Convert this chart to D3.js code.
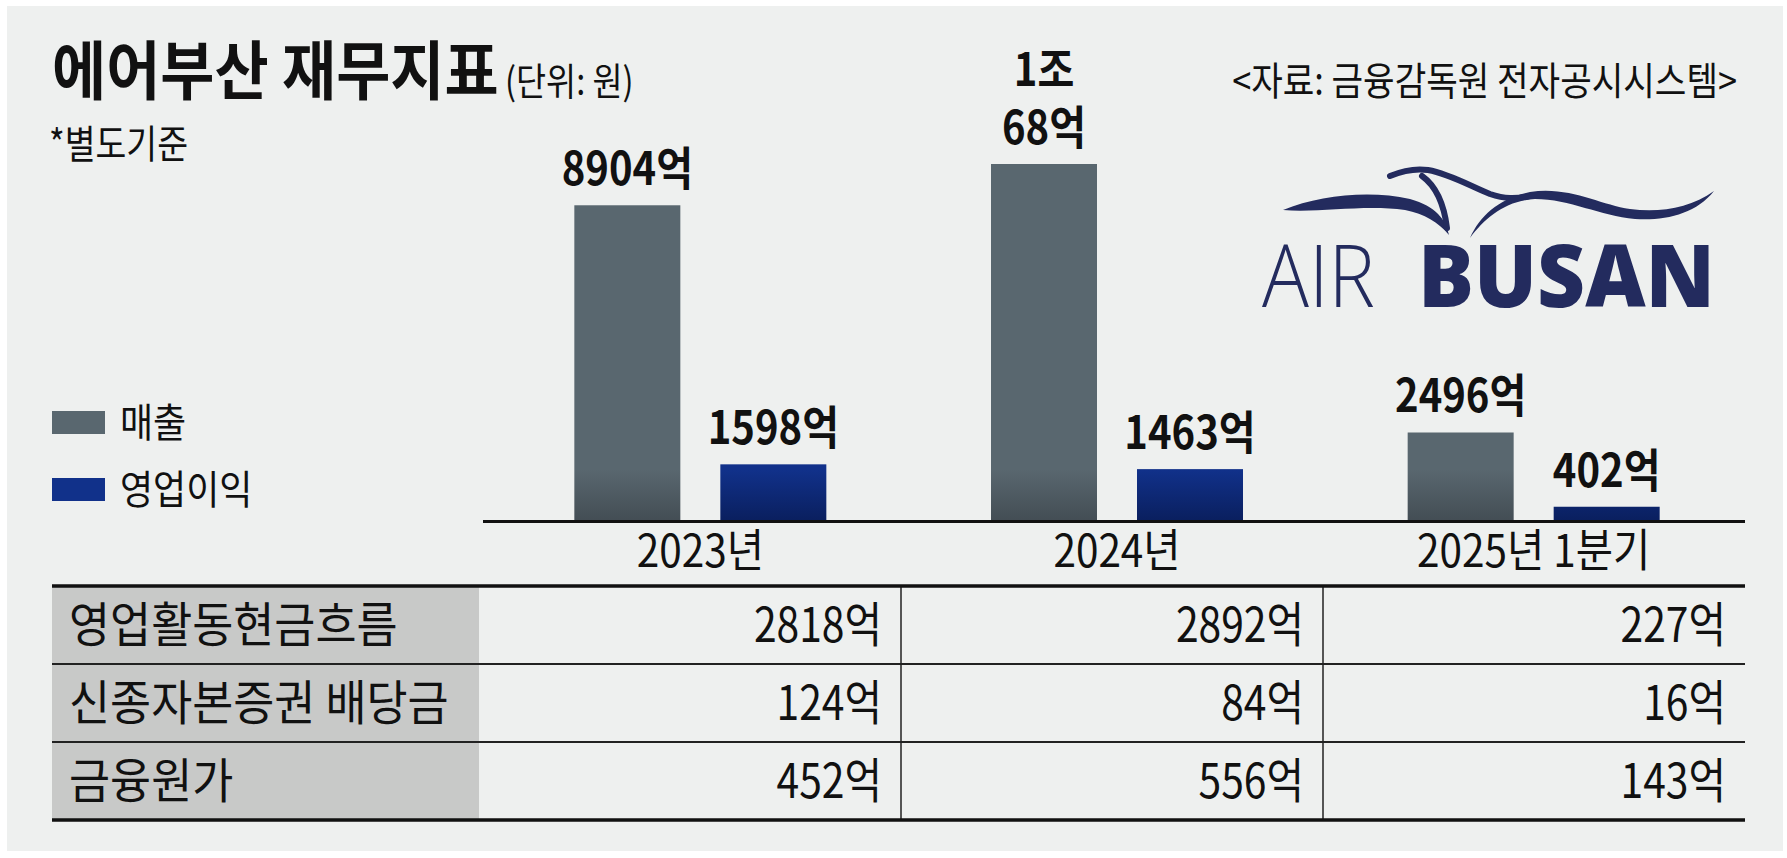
<!DOCTYPE html>
<html><head><meta charset="utf-8">
<script src="https://cdn.jsdelivr.net/npm/d3@7"></script>
<style>
html,body{margin:0;padding:0;background:#fff;}
svg{display:block;}
text{font-family:"Noto Sans CJK KR","Noto Sans",sans-serif;fill:#111;}
</style></head>
<body><svg id="c" width="1787" height="858"></svg>
<script>
// ---- data ----
const categories = ["2023년", "2024년", "2025년 1분기"];
const seriesNames = ["매출", "영업이익"];
const revenue = [8904, 10068, 2496];
const operatingProfit = [1598, 1463, 402];
const tableRowLabels = ["영업활동현금흐름", "신종자본증권 배당금", "금융원가"];
const operatingCashFlow = [2818, 2892, 227];
const hybridBondDividends = [124, 84, 16];
const financeCosts = [452, 556, 143];

const title = "에어부산 재무지표";
const unitText = "(단위: 원)";
const noteText = "*별도기준";
const sourceText = "<자료: 금융감독원 전자공시시스템>";

// ---- setup ----
const svg = d3.select("#c");
const SX = 0.86; // condensed look
const colors = {"매출": "#59676f", "영업이익": "#11318a"};
const darkColors = {"매출": "#434d54", "영업이익": "#0a1f5e"};

function txt(g, x, y, s, o) {
  o = o || {};
  const t = g.append("text")
    .attr("transform", `translate(${x},${y}) scale(${o.sx || SX},1)`)
    .attr("font-size", o.size || 40)
    .attr("font-weight", o.weight || 400)
    .attr("text-anchor", o.anchor || "start");
  if (Array.isArray(s)) {
    s.forEach((l, k) => t.append("tspan").attr("x", 0).attr("y", (k - (s.length - 1)) * (o.lh || 58)).text(l));
  } else t.text(s);
  if (o.fill) t.style("fill", o.fill);
  return t;
}

svg.append("rect").attr("x", 7).attr("y", 6).attr("width", 1776).attr("height", 845).attr("fill", "#eef0ef");

// gradients (fixed band near baseline)
const defs = svg.append("defs");
const baseY = 521;
seriesNames.forEach((s, i) => {
  const gr = defs.append("linearGradient").attr("id", "g" + i)
    .attr("gradientUnits", "userSpaceOnUse").attr("x1", 0).attr("x2", 0).attr("y1", 470).attr("y2", baseY);
  gr.append("stop").attr("offset", 0).attr("stop-color", colors[s]);
  gr.append("stop").attr("offset", 1).attr("stop-color", darkColors[s]);
});

// titles
txt(svg, 52, 94, title, {size: 64, weight: 700, sx: 0.92});
txt(svg, 505, 95, unitText, {size: 38});
txt(svg, 49, 158, noteText, {size: 39});
txt(svg, 1737, 95, sourceText, {size: 39, anchor: "end", sx: 0.88});

// scales
const x = d3.scaleBand().domain(categories).range([492, 1742]).paddingInner(0);
const xs = d3.scaleBand().domain(seriesNames).range([-126, 126]).paddingInner(0.274);
const y = d3.scaleLinear().domain([0, 10068]).range([baseY, 164]);

const data = categories.map((c, i) => ({cat: c, vals: [
  {s: "매출", v: revenue[i]}, {s: "영업이익", v: operatingProfit[i]}]}));

const fmt = v => v >= 10000 ? [Math.floor(v / 10000) + "조", (v % 10000) + "억"] : [v + "억"];

const gBars = svg.append("g");
data.forEach(d => {
  const cx = x(d.cat) + x.bandwidth() / 2;
  d.vals.forEach((e, j) => {
    gBars.append("rect")
      .attr("x", cx + xs(e.s)).attr("width", xs.bandwidth())
      .attr("y", y(e.v)).attr("height", baseY - y(e.v))
      .attr("fill", `url(#g${j})`);
    const lx = cx + xs(e.s) + xs.bandwidth() / 2;
    txt(gBars, lx, y(e.v) - 20, fmt(e.v), {size: 46, weight: 700, anchor: "middle", sx: 0.87, lh: 58});
  });
});

// axis
svg.append("line").attr("x1", 483).attr("x2", 1745).attr("y1", 521.5).attr("y2", 521.5)
  .attr("stroke", "#111").attr("stroke-width", 3);
const ax = svg.append("g").attr("transform", `translate(0,${baseY})`)
  .call(d3.axisBottom(x).tickSize(0).tickPadding(0));
ax.select(".domain").remove();
ax.selectAll(".tick text").each(function(d) {
  const p = d3.select(this.parentNode);
  d3.select(this).remove();
  txt(p, 0, 46, d, {size: 45, anchor: "middle", sx: 0.9});
});

// legend
seriesNames.forEach((s, i) => {
  const ly = 411 + i * 67;
  svg.append("rect").attr("x", 52).attr("y", ly).attr("width", 53).attr("height", 23).attr("fill", colors[s]);
  txt(svg, 120, ly + 26, s, {size: 40, sx: 0.9});
});

// table
const tTop = 586, rowH = 78, tLeft = 52, tRight = 1745, labelW = 427;
const colX = d3.scaleBand().domain(categories).range([tLeft + labelW, tRight]);
const tableData = [operatingCashFlow, hybridBondDividends, financeCosts];
svg.append("rect").attr("x", tLeft).attr("y", tTop).attr("width", labelW).attr("height", rowH * 3).attr("fill", "#c8c9c8");
tableRowLabels.forEach((lab, r) => {
  const ry = tTop + r * rowH;
  txt(svg, 69, ry + 56, lab, {size: 48, sx: 0.93});
  categories.forEach((c, ci) => {
    txt(svg, colX(c) + colX.bandwidth() - 19, ry + 56, tableData[r][ci] + "억", {size: 48, anchor: "end", sx: 0.85});
  });
});
// lines
[1, 2].forEach(r => svg.append("line").attr("x1", tLeft).attr("x2", tRight)
  .attr("y1", tTop + r * rowH).attr("y2", tTop + r * rowH).attr("stroke", "#222").attr("stroke-width", 2));
categories.slice(1).forEach(c => svg.append("line").attr("x1", colX(c)).attr("x2", colX(c))
  .attr("y1", tTop).attr("y2", tTop + rowH * 3).attr("stroke", "#222").attr("stroke-width", 1.5));
[tTop, tTop + rowH * 3].forEach(yy => svg.append("line").attr("x1", tLeft).attr("x2", tRight)
  .attr("y1", yy).attr("y2", yy).attr("stroke", "#111").attr("stroke-width", 3.5));

// logo
const navy = "#232b5e";
const logo = svg.append("g");
logo.append("path").attr("fill", navy)
  .attr("d", "M1283,210 C1320,195 1370,190 1410,199 C1436,206 1446,220 1449,235 C1438,222 1425,214 1405,210 C1365,204 1320,213 1283,210 Z");
logo.append("path").attr("fill", "none").attr("stroke", navy).attr("stroke-width", 6).attr("stroke-linecap", "round")
  .attr("d", "M1422,176 C1436,186 1444,204 1447,228");
logo.append("path").attr("fill", "none").attr("stroke", navy).attr("stroke-width", 6).attr("stroke-linecap", "round")
  .attr("d", "M1390,176 C1402,171 1415,168 1428,170 C1450,174 1470,186 1490,194 C1505,199 1515,199 1530,196");
logo.append("path").attr("fill", navy)
  .attr("d", "M1470,238 C1480,215 1500,198 1530,192 C1570,186 1600,205 1630,209 C1660,213 1690,208 1714,191 C1696,214 1665,221 1635,219 C1600,216 1570,199 1535,199 C1505,201 1485,218 1470,238 Z");
logo.append("text").attr("x", 1262).attr("y", 307).attr("font-size", 86).attr("font-weight", 300)
  .attr("textLength", 113).attr("lengthAdjust", "spacingAndGlyphs")
  .style("font-family", "'Open Sans',sans-serif").style("fill", navy).text("AIR");
logo.append("text").attr("x", 1418).attr("y", 307).attr("font-size", 86).attr("font-weight", 800)
  .attr("textLength", 297).attr("lengthAdjust", "spacingAndGlyphs")
  .style("font-family", "'Open Sans',sans-serif").style("fill", navy).text("BUSAN");
</script></body></html>
